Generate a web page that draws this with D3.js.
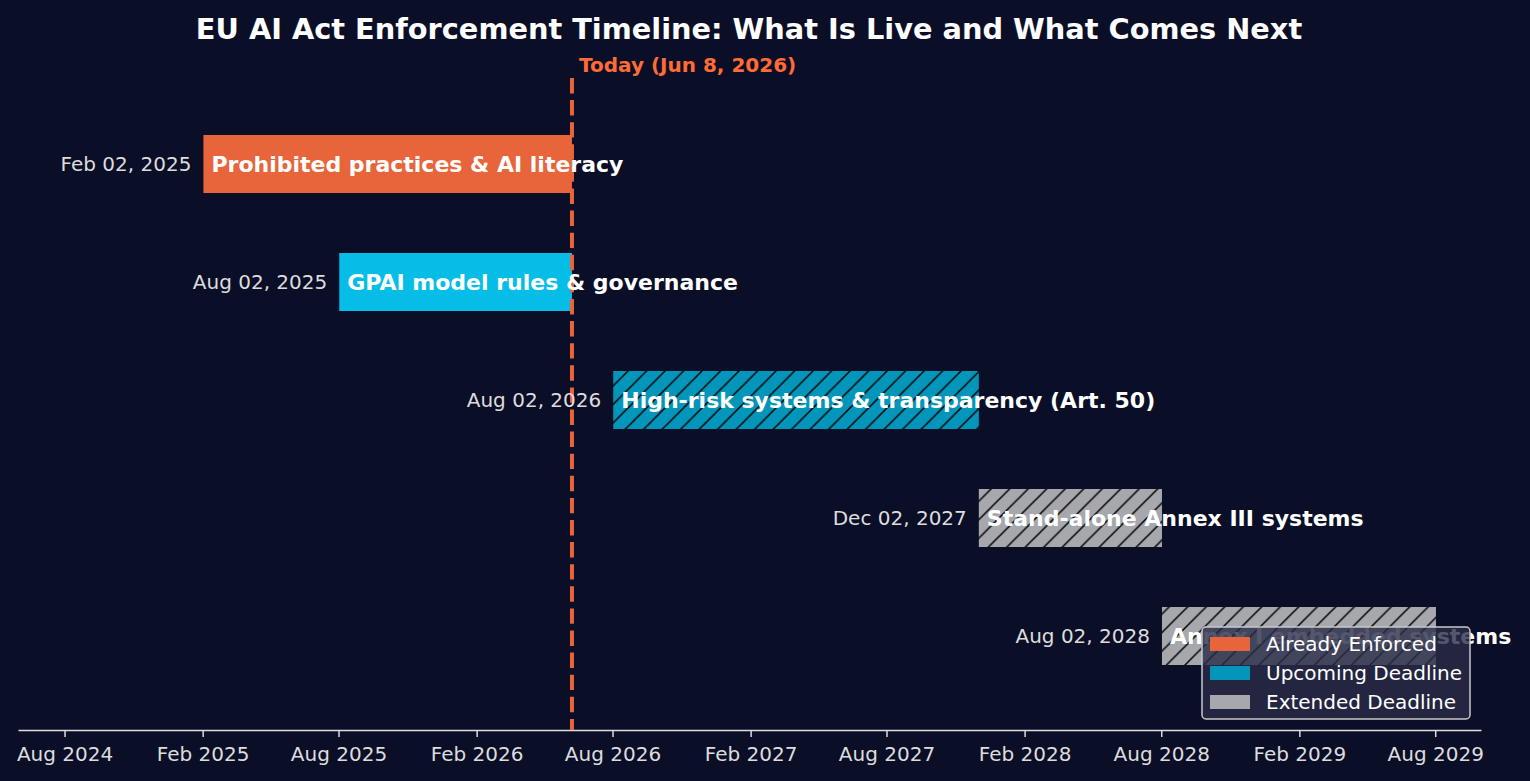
<!DOCTYPE html>
<meta charset="utf-8">
<html lang="en">
<head>
<script src="https://d3js.org/d3.v7.min.js"></script>
<style>
  body { margin: 0; background: #0b0e27; }
  text { font-family: "DejaVu Sans", sans-serif; }
</style>
</head>
<body>
<script type="text/javascript">

// milestones of the timeline
var tasks = ["Prohibited practices & AI literacy", "GPAI model rules & governance",
             "High-risk systems & transparency (Art. 50)", "Stand-alone Annex III systems",
             "Annex I embedded systems"];
var starts = ["2025-02-02", "2025-08-02", "2026-08-02", "2027-12-02", "2028-08-02"];
var ends = ["2026-06-08", "2026-06-08", "2027-12-02", "2028-08-02", "2029-08-02"];
var status = ["Already Enforced", "Already Enforced", "Upcoming Deadline", "Extended Deadline", "Extended Deadline"];
var hatched = [false, false, true, true, true];
var today = "2026-06-08";
var tickDates = ["2024-08-01", "2025-02-01", "2025-08-01", "2026-02-01", "2026-08-01",
                 "2027-02-01", "2027-08-01", "2028-02-01", "2028-08-01", "2029-02-01", "2029-08-01"];
var legendNames = ["Already Enforced", "Upcoming Deadline", "Extended Deadline"];

var parse = d3.timeParse("%Y-%m-%d");
var barColors = ["#e8643a", "#05bde6", "#0396ba", "#a7a7ae", "#a7a7ae"];
var legendColors = {"Already Enforced": "#e8643a", "Upcoming Deadline": "#0396ba", "Extended Deadline": "#a7a7ae"};

var width = 1530, height = 781;

var svg = d3.select("body").append("svg")
    .attr("width", width)
    .attr("height", height);

svg.append("rect").attr("width", width).attr("height", height).attr("fill", "#0b0e27");

// hatch pattern per fill colour
var defs = svg.append("defs");
["#0396ba", "#a7a7ae"].forEach(function(c, i) {
  var p = defs.append("pattern")
      .attr("id", "hatch" + i)
      .attr("patternUnits", "userSpaceOnUse")
      .attr("width", 18.5).attr("height", 18.5);
  p.append("rect").attr("width", 18.5).attr("height", 18.5).attr("fill", c);
  p.append("path")
      .attr("d", "M-4.6,4.6 L4.6,-4.6 M0,18.5 L18.5,0 M13.9,23.1 L23.1,13.9")
      .attr("stroke", "#000").attr("stroke-width", 1.5);
});

// scales
var x = d3.scaleTime()
    .domain([parse("2024-05-31"), parse("2029-10-01")])
    .range([18, 1481]);

var y = d3.scalePoint()
    .domain(tasks)
    .range([164, 636]);

var barH = 58;

// x axis
var xAxis = d3.axisBottom(x)
    .tickValues(tickDates.map(parse))
    .tickFormat(d3.timeFormat("%b %Y"))
    .tickSize(7)
    .tickSizeOuter(0)
    .tickPadding(10);

var gx = svg.append("g")
    .attr("transform", "translate(0,730)")
    .call(xAxis);
gx.select(".domain").attr("stroke", "#dddddd").attr("stroke-width", 1.5);
gx.selectAll(".tick line").attr("stroke", "#dddddd").attr("stroke-width", 1.5);
gx.selectAll(".tick text")
    .attr("fill", "#dddddd")
    .style("font-size", "20px")
    .style("font-family", "DejaVu Sans, sans-serif");

// bars
var rows = tasks.map(function(t, i) {
  return {task: t, start: parse(starts[i]), end: parse(ends[i]), i: i};
});

svg.selectAll(".bar")
    .data(rows)
    .enter().append("rect")
    .attr("class", "bar")
    .attr("x", function(d) { return x(d.start); })
    .attr("y", function(d) { return y(d.task) - barH / 2; })
    .attr("width", function(d) { return x(d.end) - x(d.start); })
    .attr("height", barH)
    .attr("fill", function(d) {
      if (!hatched[d.i]) return barColors[d.i];
      return barColors[d.i] == "#0396ba" ? "url(#hatch0)" : "url(#hatch1)";
    });

// today line
svg.append("line")
    .attr("x1", x(parse(today))).attr("x2", x(parse(today)))
    .attr("y1", 78).attr("y2", 730)
    .attr("stroke", "#e8643a")
    .attr("stroke-width", 4)
    .attr("stroke-dasharray", "15.4,6.7");

svg.append("text")
    .attr("x", x(parse(today)) + 7)
    .attr("y", 72)
    .attr("fill", "#ff6b35")
    .style("font-size", "20px")
    .style("font-weight", "bold")
    .text("Today (Jun 8, 2026)");

// date labels left of bars
svg.selectAll(".date")
    .data(rows)
    .enter().append("text")
    .attr("class", "date")
    .attr("x", function(d) { return x(d.start) - 12; })
    .attr("y", function(d) { return y(d.task); })
    .attr("dy", "0.35em")
    .attr("text-anchor", "end")
    .attr("fill", "#dddddd")
    .style("font-size", "20px")
    .text(function(d) { return d3.timeFormat("%b %d, %Y")(d.start); });

// task labels inside bars
svg.selectAll(".label")
    .data(rows)
    .enter().append("text")
    .attr("class", "label")
    .attr("x", function(d) { return x(d.start) + 8; })
    .attr("y", function(d) { return y(d.task); })
    .attr("dy", "0.35em")
    .attr("fill", "#ffffff")
    .style("font-size", "22px")
    .style("font-weight", "bold")
    .text(function(d) { return d.task; });

// title
svg.append("text")
    .attr("x", 749)
    .attr("y", 39)
    .attr("text-anchor", "middle")
    .attr("fill", "#ffffff")
    .style("font-size", "28.8px")
    .style("font-weight", "bold")
    .text("EU AI Act Enforcement Timeline: What Is Live and What Comes Next");

// legend
var lg = svg.append("g").attr("transform", "translate(1202,627)");
lg.append("rect")
    .attr("width", 268).attr("height", 92)
    .attr("rx", 4)
    .attr("fill", "#2a2d48").attr("fill-opacity", 0.8)
    .attr("stroke", "#c8c8cc").attr("stroke-width", 1.5);

legendNames.forEach(function(n, i) {
  lg.append("rect")
      .attr("x", 8).attr("y", 10 + i * 29)
      .attr("width", 40).attr("height", 14)
      .attr("fill", legendColors[n]);
  lg.append("text")
      .attr("x", 64).attr("y", 17 + i * 29)
      .attr("dy", "0.35em")
      .attr("fill", "#ffffff")
      .style("font-size", "20px")
      .text(n);
});

</script>
</body>
</html>
